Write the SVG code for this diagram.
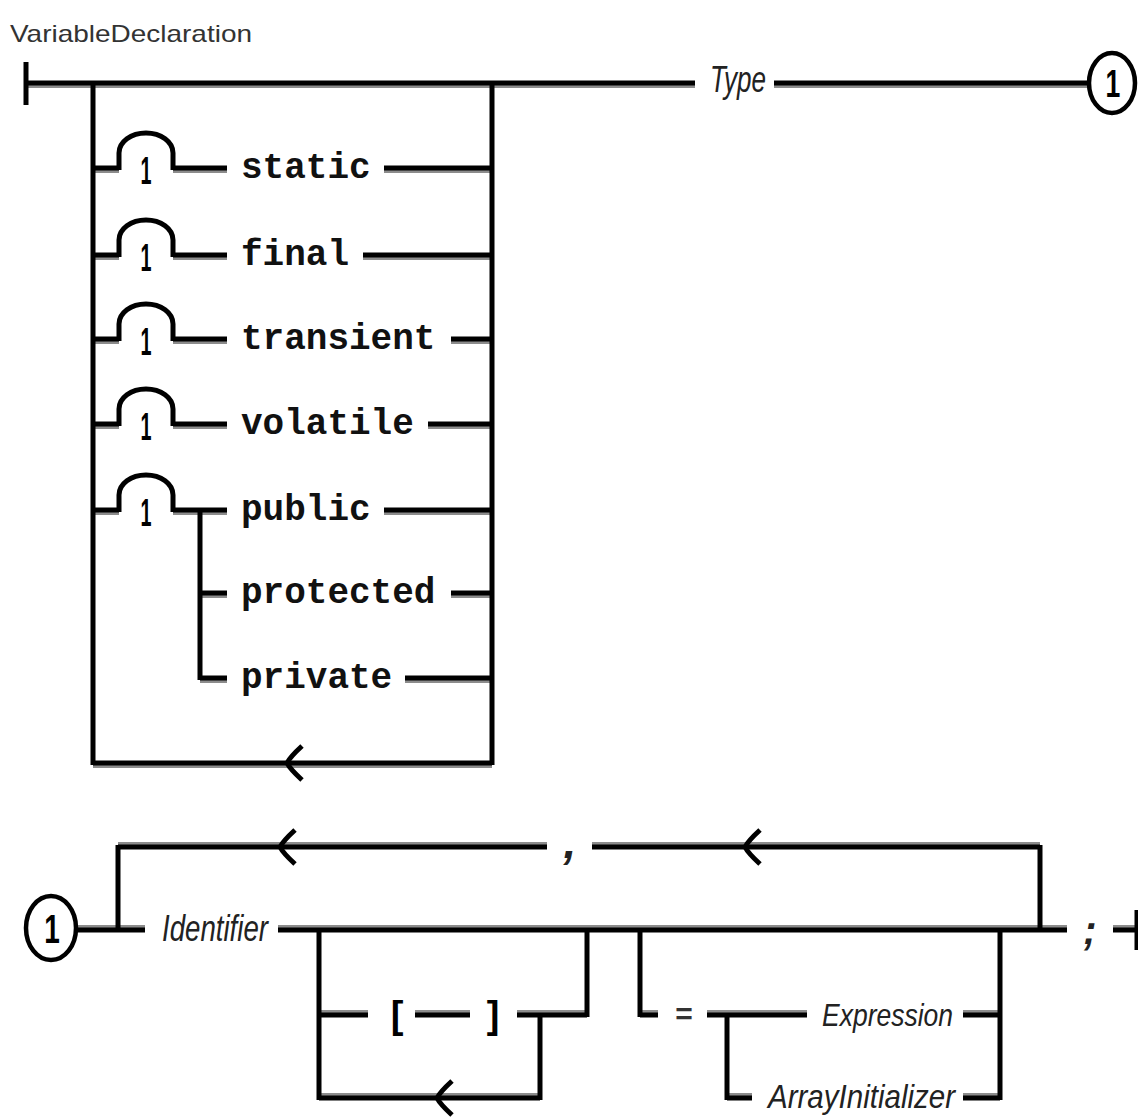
<svg xmlns="http://www.w3.org/2000/svg" xmlns:xlink="http://www.w3.org/1999/xlink" width="1138" height="1118" viewBox="0 0 1138 1118">
<style>
  .ln { fill: none; stroke: #000; stroke-width: 5; stroke-linecap: butt; stroke-linejoin: miter; }
  .sh { fill: none; stroke: #8c8c8c; stroke-width: 4; }
  .kw { font-family: "Liberation Mono", "DejaVu Sans Mono", monospace; font-weight: bold; font-size: 36px; fill: #111; }
  .nt { font-family: "Liberation Sans", "DejaVu Sans", sans-serif; font-style: italic; fill: #222; }
  .tt { font-family: "Liberation Sans", "DejaVu Sans", sans-serif; fill: #333; }
  .br { font-family: "Liberation Sans", "DejaVu Sans", sans-serif; font-weight: bold; fill: #000; }
  .num { font-family: "Liberation Sans", "DejaVu Sans", sans-serif; font-weight: bold; fill: #000; }
  .ring { fill: #fff; stroke: #000; stroke-width: 4.5; }
</style>
<defs>
  <path id="chev" d="M15,-17 Q3,-6 0,0 Q3,6 15,17"/>
  <path id="hTop" d="M26,83 H695 M774,83 H1088 M93,763 H492 M93,168 H119 M173,168 H227 M384,168 H492 M93,255 H119 M173,255 H227 M363,255 H492 M93,339 H119 M173,339 H227 M451,339 H492 M93,424 H119 M173,424 H227 M428,424 H492 M93,510 H119 M173,510 H227 M384,510 H492 M200,593 H227 M451,593 H492 M200,678 H227 M405,678 H492"/>
  <path id="hBot" d="M76,930 H145 M278,930 H1067 M1113,930 H1137 M118,847 H547 M592,847 H1040 M319,1015 H368 M415,1015 H470 M517,1015 H587 M319,1098 H540 M640,1015 H658 M707,1015 H807 M727,1098 H752 M963,1015 H1000 M963,1098 H1000"/>
</defs>

<g id="title">
  <text class="tt" x="10" y="42" font-size="24" textLength="242" lengthAdjust="spacingAndGlyphs">VariableDeclaration</text>
</g>

<g id="connectors">
  <use xlink:href="#hTop" class="sh" transform="translate(0,3)"/>
  <use xlink:href="#hBot" class="sh" transform="translate(0,-3)"/>
  <use xlink:href="#hTop" class="ln"/>
  <use xlink:href="#hBot" class="ln"/>
  <path class="ln" d="M26,62 V105"/>
  <path class="ln" d="M93,81 V765"/>
  <path class="ln" d="M492,81 V765"/>
  <path class="ln" d="M200,508 V680"/>
  <path class="ln" d="M119,170 V153 A27,20 0 0 1 173,153 V170"/>
  <path class="ln" d="M119,257 V240 A27,20 0 0 1 173,240 V257"/>
  <path class="ln" d="M119,341 V324 A27,20 0 0 1 173,324 V341"/>
  <path class="ln" d="M119,426 V409 A27,20 0 0 1 173,409 V426"/>
  <path class="ln" d="M119,512 V495 A27,20 0 0 1 173,495 V512"/>
  <use xlink:href="#chev" class="ln" transform="translate(287,763)"/>
  <path class="ln" d="M118,932 V845"/>
  <path class="ln" d="M1040,845 V932"/>
  <path class="ln" d="M1137,910 V950"/>
  <path class="ln" d="M319,928 V1100"/>
  <path class="ln" d="M540,1013 V1100"/>
  <path class="ln" d="M587,928 V1017"/>
  <path class="ln" d="M640,928 V1017"/>
  <path class="ln" d="M727,1013 V1100"/>
  <path class="ln" d="M1000,928 V1100"/>
  <use xlink:href="#chev" class="ln" transform="translate(280,847)"/>
  <use xlink:href="#chev" class="ln" transform="translate(745,847)"/>
  <use xlink:href="#chev" class="ln" transform="translate(437,1098)"/>
</g>

<g id="bump-labels">
  <text class="num" font-size="38" text-anchor="middle" transform="translate(146,184) scale(0.52,1)">1</text>
  <text class="num" font-size="38" text-anchor="middle" transform="translate(146,271) scale(0.52,1)">1</text>
  <text class="num" font-size="38" text-anchor="middle" transform="translate(146,355) scale(0.52,1)">1</text>
  <text class="num" font-size="38" text-anchor="middle" transform="translate(146,440) scale(0.52,1)">1</text>
  <text class="num" font-size="38" text-anchor="middle" transform="translate(146,526) scale(0.52,1)">1</text>
</g>

<g id="kw-static"><text class="kw" x="241" y="178">static</text></g>
<g id="kw-final"><text class="kw" x="241" y="265">final</text></g>
<g id="kw-transient"><text class="kw" x="241" y="349">transient</text></g>
<g id="kw-volatile"><text class="kw" x="241" y="434">volatile</text></g>
<g id="kw-public"><text class="kw" x="241" y="520">public</text></g>
<g id="kw-protected"><text class="kw" x="241" y="603">protected</text></g>
<g id="kw-private"><text class="kw" x="241" y="688">private</text></g>

<g id="nt-type"><text class="nt" x="710" y="92" font-size="36" textLength="56" lengthAdjust="spacingAndGlyphs">Type</text></g>

<g id="ref-1-top">
  <ellipse class="ring" cx="1112" cy="83" rx="23" ry="30"/>
  <text class="num" font-size="38" text-anchor="middle" transform="translate(1113,97) scale(0.7,1)">1</text>
</g>

<g id="ref-1-bottom">
  <ellipse class="ring" cx="51" cy="928" rx="25" ry="32"/>
  <text class="num" font-size="40" text-anchor="middle" transform="translate(52,943) scale(0.7,1)">1</text>
</g>

<g id="nt-identifier"><text class="nt" x="162" y="941" font-size="36" textLength="106" lengthAdjust="spacingAndGlyphs">Identifier</text></g>

<g id="t-comma"><text class="nt" x="570" y="858" font-size="46" text-anchor="middle" font-weight="bold">,</text></g>

<g id="t-lbracket"><text class="br" x="397" y="1028" font-size="38" text-anchor="middle">[</text></g>
<g id="t-rbracket"><text class="br" x="493" y="1028" font-size="38" text-anchor="middle">]</text></g>

<g id="t-equals"><text class="tt" x="684" y="1024" font-size="30" text-anchor="middle" font-weight="bold">=</text></g>

<g id="nt-expression"><text class="nt" x="822" y="1026" font-size="32" textLength="131" lengthAdjust="spacingAndGlyphs">Expression</text></g>
<g id="nt-arrayinitializer"><text class="nt" x="768" y="1108" font-size="34" textLength="187" lengthAdjust="spacingAndGlyphs">ArrayInitializer</text></g>

<g id="t-semicolon"><text class="nt" x="1090" y="944" font-size="40" text-anchor="middle" font-weight="bold">;</text></g>
</svg>
